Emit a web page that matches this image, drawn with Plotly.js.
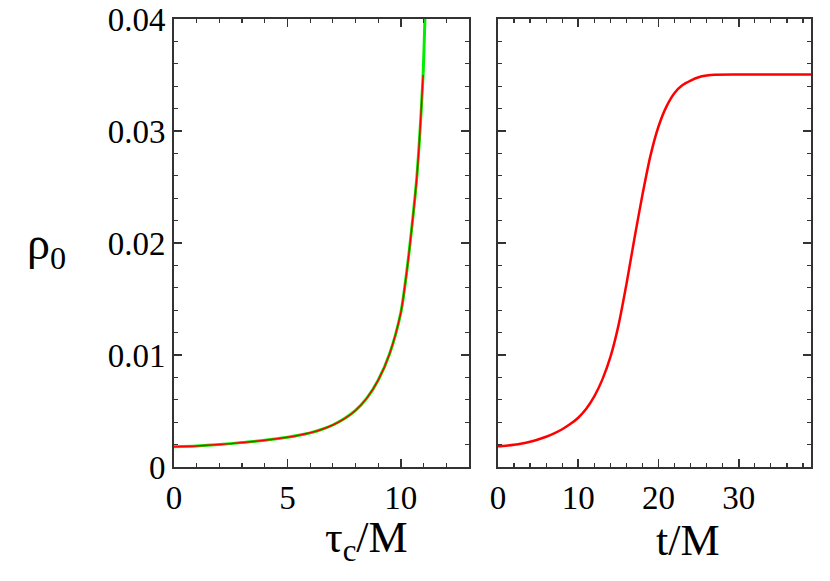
<!DOCTYPE html>
<html>
<head>
<meta charset="utf-8">
<script src="https://cdn.plot.ly/plotly-3.0.1.min.js"></script>
<style>
  body { margin: 0; background: #fff; }
  #plot { width: 830px; height: 581px; }
</style>
</head>
<body>
<div id="plot"></div>
<script>
// Left panel: rho_0 vs tau_c / M (green = full curve, red = overlay up to the plateau value)
tau_c   = [0, 1, 2, 3, 4, 5, 5.5, 6, 6.5, 7, 7.5, 8, 8.5, 9, 9.5, 10, 10.25, 10.5, 10.7, 10.85, 10.98, 11.06];
rho_tau = [0.00181, 0.00187, 0.00200, 0.00218, 0.00238, 0.00265, 0.00283, 0.00305, 0.00335,
           0.00375, 0.00430, 0.00505, 0.00615, 0.00775, 0.01010, 0.01380, 0.01730, 0.02170,
           0.02580, 0.03020, 0.03500, 0.04000];
red_count = 21;  // red line stops at rho = 0.035

// Right panel: rho_0 vs t / M
t_m   = [0, 1, 2, 3, 4, 5, 6, 7, 8, 9, 10, 11, 12, 13, 14, 15, 16, 17, 18, 19, 20, 21, 22, 23, 24, 25, 26, 27, 30, 35, 39];
rho_t = [0.00185, 0.00190, 0.00198, 0.00210, 0.00226, 0.00246, 0.00270, 0.00300, 0.00337,
         0.00383, 0.00440, 0.00520, 0.00630, 0.00780, 0.00980, 0.01260, 0.01630, 0.02040,
         0.02430, 0.02780, 0.03040, 0.03220, 0.03340, 0.03410, 0.03450, 0.03480, 0.03495,
         0.03503, 0.03505, 0.03505, 0.03505];

var serif = 'Liberation Serif';
var frame = '#333';

function axis_common(extra) {
    var ax = {
        showgrid: false,
        zeroline: false,
        showline: true,
        linecolor: frame,
        linewidth: 2,
        mirror: 'allticks',
        ticks: 'inside',
        ticklen: 8,
        tickwidth: 1.5,
        tickcolor: frame,
        tickfont: {family: serif, size: 33, color: '#000'}
    };
    for (var k in extra) ax[k] = extra[k];
    return ax;
}

function minor(step) {
    return {ticks: 'inside', ticklen: 4, tickwidth: 1.2, tickcolor: frame, dtick: step};
}

var data = [
    {x: tau_c, y: rho_tau, type: 'scatter', mode: 'lines',
     line: {color: '#00ee00', width: 3, shape: 'spline', smoothing: 0.7},
     xaxis: 'x', yaxis: 'y', hoverinfo: 'skip'},
    {x: tau_c.slice(0, red_count), y: rho_tau.slice(0, red_count), type: 'scatter', mode: 'lines',
     line: {color: '#ff0000', width: 1.5, shape: 'spline', smoothing: 0.7},
     xaxis: 'x', yaxis: 'y', hoverinfo: 'skip'},
    {x: t_m, y: rho_t, type: 'scatter', mode: 'lines',
     line: {color: '#ff0000', width: 2.5, shape: 'spline', smoothing: 0.8},
     xaxis: 'x2', yaxis: 'y2', hoverinfo: 'skip'}
];

var layout = {
    width: 830,
    height: 581,
    showlegend: false,
    paper_bgcolor: '#fff',
    plot_bgcolor: '#fff',
    margin: {l: 174, r: 19, t: 19, b: 114},
    xaxis: axis_common({domain: [0, 0.463], range: [0, 13], dtick: 5, tick0: 0, minor: minor(1)}),
    xaxis2: axis_common({domain: [0.5086, 1], range: [0, 39], dtick: 10, tick0: 0, minor: minor(2)}),
    yaxis: axis_common({anchor: 'x', range: [0, 0.04], dtick: 0.01, tick0: 0, minor: minor(0.002)}),
    yaxis2: axis_common({anchor: 'x2', range: [0, 0.04], dtick: 0.01, tick0: 0,
                         showticklabels: false, minor: minor(0.002)}),
    annotations: [
        {text: 'ρ<sub>0</sub>', xref: 'paper', yref: 'paper', x: -0.2, y: 0.49,
         xanchor: 'center', yanchor: 'middle', showarrow: false,
         font: {family: serif, size: 46, color: '#000'}},
        {text: 'τ<sub>c</sub>/M', xref: 'paper', yref: 'paper', x: 0.302, y: -0.165,
         xanchor: 'center', yanchor: 'middle', showarrow: false,
         font: {family: serif, size: 44, color: '#000'}},
        {text: 't/M', xref: 'paper', yref: 'paper', x: 0.807, y: -0.165,
         xanchor: 'center', yanchor: 'middle', showarrow: false,
         font: {family: serif, size: 44, color: '#000'}}
    ]
};

Plotly.newPlot('plot', data, layout, {staticPlot: true});
</script>
</body>
</html>
